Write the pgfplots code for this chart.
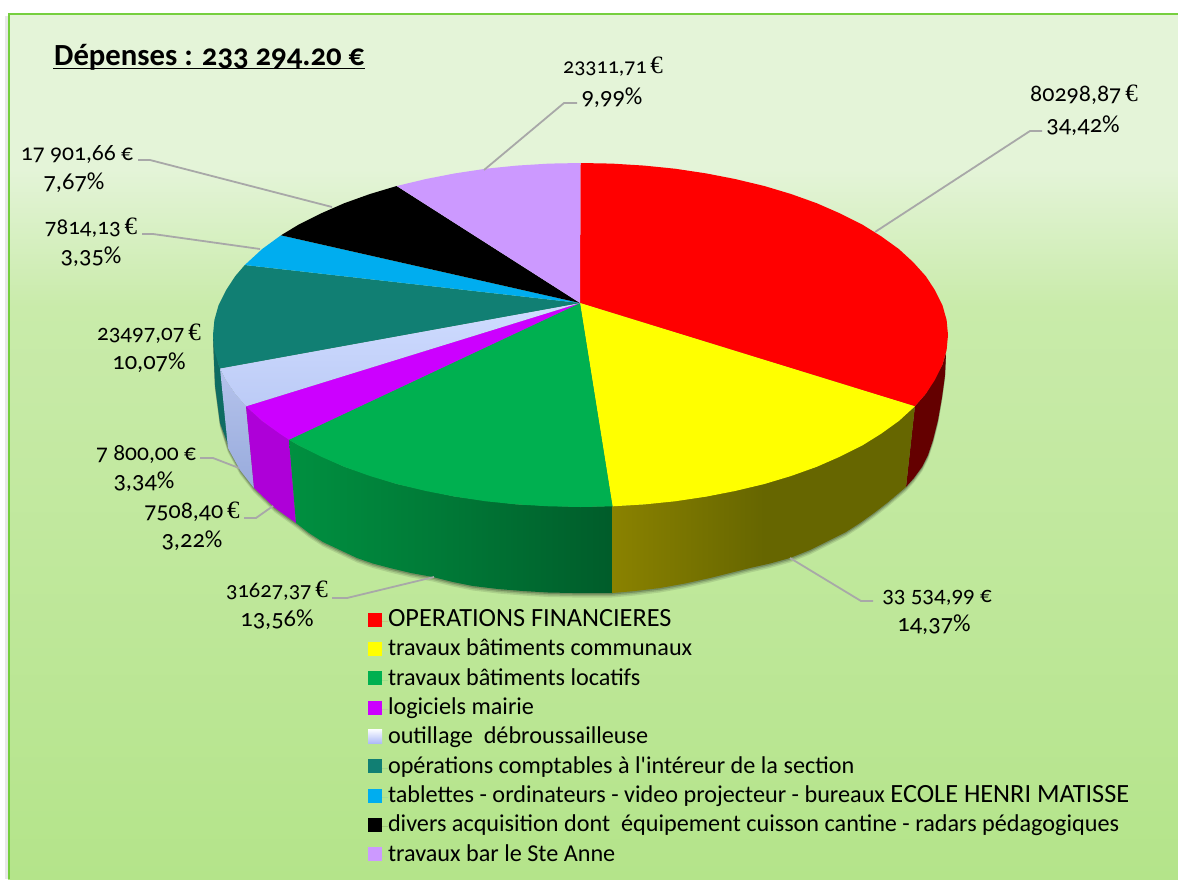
\documentclass[border=0pt]{standalone}
\usepackage{fontspec}
\usepackage{pgfplots}
\pgfplotsset{compat=1.18}
\newfontfamily\lab{Carlito}[Numbers=OldStyle]
\newfontfamily\eur{Liberation Serif}
\setmainfont{Carlito}[Numbers=OldStyle]
\definecolor{bgA}{HTML}{E4F4D8}
\definecolor{bgB}{HTML}{C9EBAA}
\definecolor{bgC}{HTML}{B4E48A}
\definecolor{leader}{HTML}{A8A8A8}
\definecolor{frameg}{HTML}{76CF3E}
\definecolor{pieR}{HTML}{FF0000}
\definecolor{pieY}{HTML}{FFFF00}
\definecolor{pieG}{HTML}{00B050}
\definecolor{pieM}{HTML}{CC00FF}
\definecolor{pieT}{HTML}{117F73}
\definecolor{pieC}{HTML}{00ADEF}
\definecolor{pieP}{HTML}{CC99FF}
\definecolor{lbA}{HTML}{CFDCFF}
\definecolor{lbB}{HTML}{BCCBF6}
\definecolor{B5side}{HTML}{B5C3EC}
\definecolor{Bdside}{HTML}{98ABDC}
\definecolor{Mside}{HTML}{AE00D8}
\definecolor{Rside}{HTML}{640000}
\pgfdeclareverticalshading{bggrad}{100bp}{color(0bp)=(bgC); color(25bp)=(bgC); color(58bp)=(bgB); color(66bp)=(bgA); color(100bp)=(bgA)}
\definecolor{yA}{HTML}{8A8200}
\definecolor{yB}{HTML}{666600}
\pgfdeclarehorizontalshading{yside}{100bp}{color(0bp)=(yA); color(25bp)=(yA); color(50bp)=(yB); color(100bp)=(yB)}
\definecolor{gA}{HTML}{009040}
\definecolor{gB}{HTML}{007A37}
\definecolor{gC}{HTML}{005C2A}
\pgfdeclarehorizontalshading{gside}{100bp}{color(0bp)=(gA); color(25bp)=(gA); color(48bp)=(gB); color(75bp)=(gC); color(100bp)=(gC)}
\pgfplotstableread{
x y
946 353
945 375
942 397
938 420
933 440
928 455
922 467
914 478
906 487
887 503
874 513
860 523
846 532
830 540
810 550
790 558
770 563.5
750 568
730 573
710 578
685 583.5
660 588
635 591
612 593
573 593
548 592.5
523 591
498 589
473 586
453 582
433 577
411 573
390 568
373 563.5
357 558
340 550
323 542
309 533
296 523
275 508
254 488
240 470
228 448
220 423
215 385
213 340
580 300
}\outline
\newcommand{\lbl}[4]{\node[font=\fontsize{#4}{#4}\lab,text=black,inner sep=0pt,anchor=center] at (axis cs:#1,#2) {#3};}
\newcommand{\beur}{\,{\eur\fontsize{25}{25}\selectfont €}}
\newcommand{\caps}[1]{{\fontsize{26.3}{26.3}\selectfont #1}}
\begin{document}
\begin{tikzpicture}
\begin{axis}[
  scale only axis, width=1178pt, height=879pt,
  xmin=0, xmax=1178, ymin=0, ymax=879, y dir=reverse,
  hide axis, no markers,
  legend cell align=left,
  legend style={at={(axis cs:368,611.5)},anchor=north west,draw=none,fill=none,
    inner sep=0pt,outer sep=0pt,row sep=9.35pt,
    font=\fontsize{24.2}{24.2}\lab,
    nodes={inner sep=0pt,text height=15pt,text depth=5pt}},
  legend image code/.code={\fill[#1] (0pt,-5pt) rectangle (14pt,9pt);\path (0pt,0pt) -- (20pt,0pt);},
]
% page and panel
\addplot[fill=white,draw=none,forget plot] coordinates {(0,0)(1178,0)(1178,879)(0,879)};
\addplot[fill=gray,fill opacity=0.18,draw=none,forget plot] coordinates {(5,16)(9,16)(9,879)(5,879)};
\addplot[shade,shading=bggrad,draw=none,forget plot] coordinates {(8,13)(1178,13)(1178,879)(8,879)};
\addplot[draw=frameg,line width=2pt,forget plot] coordinates {(8.5,879)(8.5,13.5)(1178,13.5)};
% soft shadow under the pie
\addplot[fill=black,fill opacity=0.10,draw=none,yshift=-4.5pt,forget plot] table {\outline};
\addplot[fill=black,fill opacity=0.14,draw=none,yshift=-3pt,forget plot] table {\outline};
\addplot[fill=black,fill opacity=0.20,draw=none,yshift=-1.5pt,forget plot] table {\outline};
% sides
\addplot[fill=pieT!85!black,draw=none,forget plot] coordinates {(213,335)(218.6,364.9)(222,372)(230,450)(220,423)(215,385)};
\addplot[top color=B5side,bottom color=Bdside,draw=none,forget plot] coordinates {(220,368.4)(225.5,379.5)(235.2,393.8)(246,406.3)(254,488)(240,470)(228,448)};
\addplot[fill=Mside,draw=none,forget plot] coordinates {(246,406.3)(262.2,421)(289,439.7)(296,523)(275,508)(254,488)};
\addplot[fill=Rside,draw=none,forget plot] coordinates {(914.9,406.3)(925.8,393.8)(942.4,364.9)(946,353)(945,375)(942,397)(938,420)(933,440)(928,455)(922,467)(914,478)(906,487)};
\addplot[shade,shading=gside,draw=none,forget plot] coordinates {(612.5,506)(580.5,507)(516.7,504.4)(454.8,496.6)(396.7,484)(344.3,466.8)(299,445.6)(289,439.7)(296,523)(309,533)(323,542)(340,550)(357,558)(373,563.5)(390,568)(411,573)(433,577)(453,582)(473,586)(498,589)(523,591)(548,592.5)(573,593)(613,593)};
\addplot[shade,shading=yside,draw=none,forget plot] coordinates {(612.5,506.3)(644.3,504.4)(706.2,496.6)(764.3,484)(816.7,466.8)(862,445.6)(898.8,421)(914.9,406.3)(906,487)(887,503)(874,513)(860,523)(846,532)(830,540)(810,550)(790,558)(770,563.5)(750,568)(730,573)(710,578)(685,583.5)(660,588)(635,591)(612.5,593)};
% top face wedges
\addplot[fill=pieR,draw=none] coordinates {(580,303)(580.5,163)(612,163.6)(644.3,165.6)(675,168.7)(706.2,173.4)(735,179)(764.3,186)(791,194)(816.7,203.2)(840,213.4)(862,224.4)(881,236.2)(898.8,249)(913,262)(925.8,276.2)(935,290.3)(942.4,305.1)(946.6,320)(948,335)(946.6,350)(942.4,364.9)(935,379.7)(925.8,393.8)(914.9,406.3)};
\addlegendentry{\caps{OPERATIONS FINANCIERES}}
\addplot[fill=pieY,draw=none] coordinates {(580,303)(914.9,406.3)(898.8,421)(881,433.8)(862,445.6)(840,456.6)(816.7,466.8)(791,476)(764.3,484)(735,491)(706.2,496.6)(675,501.3)(644.3,504.4)(612.5,506.3)};
\addlegendentry{travaux bâtiments communaux}
\addplot[fill=pieG,draw=none] coordinates {(580,303)(612.5,506.3)(580.5,507)(549,506.3)(516.7,504.4)(486,501.3)(454.8,496.6)(426,491)(396.7,484)(370,476)(344.3,466.8)(321,456.6)(299,445.6)(289,439.7)};
\addlegendentry{travaux bâtiments locatifs}
\addplot[fill=pieM,draw=none] coordinates {(580,303)(289,439.7)(280,433.8)(262.2,421)(246,406.3)};
\addlegendentry{logiciels mairie}
\addplot[top color=lbA,bottom color=lbB,draw=none,
  legend image code/.code={\shade[top color=white!85!lbA,bottom color=lbB!90!blue] (0pt,-5pt) rectangle (14pt,9pt);\path (0pt,0pt) -- (20pt,0pt);}]
  coordinates {(580,303)(246,406.3)(235.2,393.8)(225.5,379.5)(220,368.4)};
\addlegendentry{outillage\ \ débroussailleuse}
\addplot[fill=pieT,draw=none] coordinates {(580,303)(220,368.4)(218.6,364.9)(214.4,350)(213,335)(214.4,320)(218.6,305.1)(226,290.3)(235.2,276.2)(244.8,265)};
\addlegendentry{opérations comptables à l'intéreur de la section}
\addplot[fill=pieC,draw=none] coordinates {(580,303)(244.8,265)(262.2,249)(281,235.3)};
\addlegendentry{tablettes - ordinateurs - video projecteur - bureaux \caps{ECOLE HENRI MATISSE}}
\addplot[fill=black,draw=none] coordinates {(580,303)(281,235.3)(299,224.4)(321,213.4)(344.3,203.2)(370,194)(396.7,186)};
\addlegendentry{divers acquisition dont\ \ équipement cuisson cantine - radars pédagogiques}
\addplot[fill=pieP,draw=none] coordinates {(580,303)(396.7,186)(426,179)(454.8,173.4)(486,168.7)(516.7,165.6)(549,163.6)(580.5,163)};
\addlegendentry{travaux bar le Ste Anne}
% leader lines
\addplot[draw=leader,line width=1.8pt,forget plot] coordinates {(484,170)(564,103)(577,103)};
\addplot[draw=leader,line width=1.8pt,forget plot] coordinates {(875,232)(1030,131)(1042,131)};
\addplot[draw=leader,line width=1.8pt,forget plot] coordinates {(138,160)(150,160)(332,207)};
\addplot[draw=leader,line width=1.8pt,forget plot] coordinates {(142,234)(153,234)(260,249)};
\addplot[draw=leader,line width=1.8pt,forget plot] coordinates {(200,458)(213,458)(239,468)};
\addplot[draw=leader,line width=1.8pt,forget plot] coordinates {(244,518)(256,518)(273,506)};
\addplot[draw=leader,line width=1.8pt,forget plot] coordinates {(332,598)(347,598)(434,577)};
\addplot[draw=leader,line width=1.8pt,forget plot] coordinates {(873,601)(861,601)(790,558)};
% title rule
\addplot[draw=black,line width=1.8pt,forget plot] coordinates {(53,68.5)(365,68.5)};
% texts
\node[font=\fontsize{30.7}{30.7}\bfseries\lab,anchor=base west,inner sep=0pt] at (axis cs:54,65) {Dépenses : 233 294.20 €};
\lbl{613}{67}{23311,71\beur}{22}
\lbl{612}{98}{9,99\%}{24.5}
\lbl{1084}{95}{80298,87\beur}{24}
\lbl{1083}{126}{34,42\%}{24.5}
\lbl{77}{154}{17 901,66 €}{23.6}
\lbl{74}{183}{7,67\%}{24.5}
\lbl{91}{228}{7814,13\beur}{23}
\lbl{91}{257}{3,35\%}{24.5}
\lbl{149}{334}{23497,07\beur}{23}
\lbl{149}{363}{10,07\%}{24.5}
\lbl{146}{454}{7 800,00 €}{23.5}
\lbl{144}{482}{3,34\%}{24.5}
\lbl{192}{512}{7508,40\beur}{24}
\lbl{192}{541}{3,22\%}{24.5}
\lbl{277}{591}{31627,37\beur}{22.5}
\lbl{277}{620}{13,56\%}{24.5}
\lbl{937}{598}{33 534,99 €}{23}
\lbl{934}{625}{14,37\%}{24.5}
\end{axis}
\end{tikzpicture}
\end{document}
